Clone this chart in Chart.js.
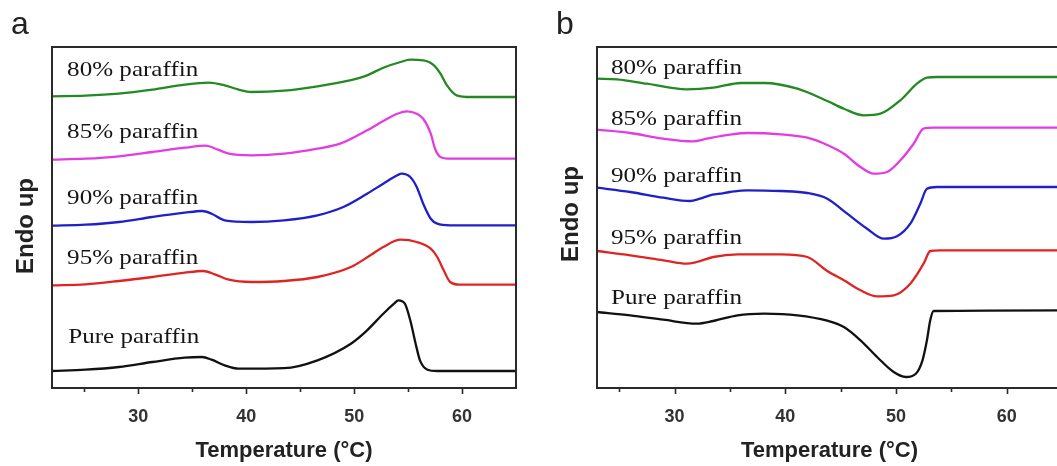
<!DOCTYPE html>
<html><head><meta charset="utf-8">
<script src="https://cdn.jsdelivr.net/npm/chart.js@4/dist/chart.umd.min.js"></script>
<style>
html,body{margin:0;padding:0;overflow:hidden;background:#fff;width:1057px;height:466px;}
#wrap{position:relative;width:1057px;height:466px;overflow:hidden;background:#fff;}
canvas{position:absolute;top:0;}
</style></head><body>
<div id="wrap">
<canvas id="ca" width="530" height="466" style="left:0;width:530px;height:466px"></canvas>
<canvas id="cb" width="530" height="466" style="left:545px;width:530px;height:466px"></canvas>
</div>
<script>
// ---------- Panel a (heating) ----------
const tempA80 = [22,25.1,28.2,31.3,34.3,36.5,38.0,39.3,40.5,43.5,46.6,49.6,51.2,52.7,54.3,55.2,56.4,57.4,58.0,58.6,59.5,60.8,65];
const heatA80 = [29.17,29.23,29.43,29.83,30.33,30.53,30.27,29.83,29.6,29.73,30.17,30.77,31.27,32.03,32.6,32.83,32.77,32.27,31.43,30.27,29.27,29.1,29.1];
const tempA85 = [22,25.1,28.2,31.3,34.3,36.2,37.4,38.4,40.5,43.5,46.6,48.7,51.2,52.7,54.0,54.9,55.8,56.4,57.1,57.5,58.0,58.9,65];
const heatA85 = [22.83,22.93,23.17,23.6,24.03,24.23,23.83,23.43,23.27,23.43,23.93,24.43,25.77,26.7,27.43,27.67,27.43,26.93,25.43,23.93,23.1,22.93,22.93];
const tempA90 = [22,25.1,28.2,31.3,34.3,35.9,36.8,38.0,40.5,43.5,46.6,49.0,51.2,52.7,54.0,54.4,55.2,55.8,56.4,57.1,57.7,58.9,65];
const heatA90 = [16.23,16.33,16.6,17.1,17.53,17.7,17.43,16.77,16.6,16.77,17.27,18.1,19.43,20.43,21.27,21.43,21.1,20.1,18.43,16.93,16.43,16.27,16.27];
const tempA95 = [22,25.1,28.2,31.3,34.3,36.0,37.1,38.4,40.5,43.5,46.6,49.7,51.5,52.7,54.3,55.8,57.1,57.7,58.3,58.9,59.8,65];
const heatA95 = [10.27,10.37,10.7,11.1,11.53,11.7,11.37,10.83,10.6,10.7,11.1,12.1,13.27,14.1,14.83,14.6,13.93,13.1,11.77,10.6,10.33,10.33];
const tempA100 = [22,25.1,28.2,31.3,34.3,35.9,36.8,38.0,39.3,43.5,46.6,49.7,51.2,52.7,53.7,54.1,54.7,55.2,55.7,56.1,56.8,57.7,65];
const heatA100 = [1.7,1.83,2.1,2.6,3.03,3.1,2.83,2.27,1.93,1.98,2.77,4.43,5.77,7.43,8.43,8.77,8.43,6.77,4.43,2.77,1.83,1.7,1.7];

// ---------- Panel b (cooling) ----------
const tempB80 = [23,24.8,27.5,31.1,33.5,36.0,38.1,41.1,43.8,45.3,47.1,48.6,50.4,51.9,52.8,53.7,65];
const heatB80 = [30.93,30.87,30.43,29.87,30.03,30.5,30.5,29.93,28.7,27.93,27.27,27.43,28.77,30.43,31.03,31.1,31.1];
const tempB85 = [23,26.0,29.0,31.7,32.9,35.0,36.6,39.6,42.0,43.8,45.3,46.8,48.0,49.2,50.4,51.6,52.5,53.4,65];
const heatB85 = [25.83,25.5,24.93,24.67,24.93,25.33,25.5,25.37,25.03,24.3,23.43,22.1,21.43,21.6,22.77,24.43,25.93,26.03,26.03];
const tempB90 = [23,26.0,29.0,31.4,32.3,33.2,34.1,35.0,36.6,39.6,42.0,43.8,45.6,47.4,48.9,50.1,51.3,52.2,52.8,53.7,65];
const heatB90 = [20.03,19.6,19.03,18.7,18.93,19.27,19.43,19.6,19.77,19.7,19.5,18.93,17.43,15.93,14.93,15.17,16.43,18.43,19.93,20.1,20.1];
const tempB95 = [23,26.0,29.0,31.1,32.0,33.5,35.7,39.6,42.0,43.8,45.3,46.8,48.3,49.8,51.3,52.5,53.1,54.0,65];
const heatB95 = [13.7,13.27,12.77,12.43,12.6,13.1,13.37,13.37,13.1,11.7,10.77,9.77,9.17,9.27,10.43,12.43,13.7,13.77,13.77];
const tempB100 = [23,26.0,29.0,32.0,33.5,35.7,38.1,41.1,43.8,45.3,46.8,48.3,49.8,50.9,51.8,52.4,52.8,53.1,53.4,65];
const heatB100 = [7.6,7.27,6.83,6.43,6.7,7.27,7.43,7.27,6.73,6.1,4.77,3.1,1.6,1.1,1.43,2.77,4.77,6.77,7.7,7.77];

const seriesNames = ['80% paraffin','85% paraffin','90% paraffin','95% paraffin','Pure paraffin'];
const seriesColors = ['#238a23','#e23ce2','#2020c8','#e02424','#111111'];
const labelTempA = [23.4,23.4,23.4,23.4,23.5];
const labelHeatA = [31.17,25.03,18.43,12.43,4.5];
const labelTempB = [24.26,24.26,24.26,24.26,24.26];
const labelHeatB = [31.43,26.27,20.6,14.43,8.43];
const majorTicks = [30,40,50,60];
const minorTicks = [25,35,45,55];
const xTitle = 'Temperature (\u00B0C)';
const yTitle = 'Endo up';

function pts(t, v){ return t.map((x,i)=>({x:x, y:v[i]})); }

function makePanel(id, letter, xmin, xmax, temps, heats, lT, lH, padRight){
  const decor = {
    id:'decor'+id,
    afterDraw(chart){
      const ctx = chart.ctx, a = chart.chartArea, xs = chart.scales.x, ys = chart.scales.y;
      ctx.save();
      // frame
      ctx.strokeStyle = '#2a2a2a'; ctx.lineWidth = 2;
      ctx.strokeRect(a.left, a.top, a.right - a.left, a.bottom - a.top);
      // ticks
      ctx.lineWidth = 1.6;
      majorTicks.concat(minorTicks).forEach(v=>{
        const px = Math.round(xs.getPixelForValue(v)) + 0.5;
        const len = majorTicks.includes(v) ? 6 : 4;
        ctx.beginPath(); ctx.moveTo(px, a.bottom); ctx.lineTo(px, a.bottom + len); ctx.stroke();
      });
      // tick labels
      ctx.fillStyle = '#333'; ctx.font = 'bold 18px "Liberation Sans", Arial, sans-serif';
      ctx.textAlign = 'center'; ctx.textBaseline = 'alphabetic';
      majorTicks.forEach(v=>{ ctx.fillText(String(v), xs.getPixelForValue(v), 422); });
      // x title
      ctx.fillStyle = '#222'; ctx.font = 'bold 22px "Liberation Sans", Arial, sans-serif';
      ctx.fillText(xTitle, (a.left + a.right)/2, 457);
      // y title
      ctx.save();
      ctx.translate(33, id === 'ca' ? 226 : 214); ctx.rotate(-Math.PI/2);
      ctx.font = 'bold 24px "Liberation Sans", Arial, sans-serif';
      ctx.fillText(yTitle, 0, 0);
      ctx.restore();
      // panel letter
      ctx.textAlign = 'left'; ctx.font = '32px "Liberation Sans", Arial, sans-serif'; ctx.fillStyle = '#222';
      ctx.fillText(letter, 11, 34);
      // series labels
      ctx.fillStyle = '#151515'; ctx.font = '22px "Liberation Serif", "Times New Roman", serif';
      seriesNames.forEach((n,i)=>{
        ctx.save();
        ctx.translate(xs.getPixelForValue(lT[i]), ys.getPixelForValue(lH[i]));
        ctx.scale(1.14, 1);
        ctx.fillText(n, 0, 0);
        ctx.restore();
      });
      ctx.restore();
    }
  };
  new Chart(document.getElementById(id), {
    type:'line',
    data:{ datasets: temps.map((t,i)=>({
      data: pts(t, heats[i]), borderColor: seriesColors[i], borderWidth: 2.3,
      pointRadius: 0, fill:false, cubicInterpolationMode:'monotone'
    }))},
    options:{
      responsive:false, animation:false, events:[],
      layout:{padding:{left:52, top:47, right:padRight, bottom:78}},
      plugins:{legend:{display:false}, tooltip:{enabled:false}},
      scales:{
        x:{type:'linear', min:xmin, max:xmax, display:false},
        y:{type:'linear', min:0, max:34.1, display:false}
      }
    },
    plugins:[decor]
  });
}

makePanel('ca','a',22,65,[tempA80,tempA85,tempA90,tempA95,tempA100],[heatA80,heatA85,heatA90,heatA95,heatA100],labelTempA,labelHeatA,14);
makePanel('cb','b',23,65,[tempB80,tempB85,tempB90,tempB95,tempB100],[heatB80,heatB85,heatB90,heatB95,heatB100],labelTempB,labelHeatB,13);
</script>
</body></html>
